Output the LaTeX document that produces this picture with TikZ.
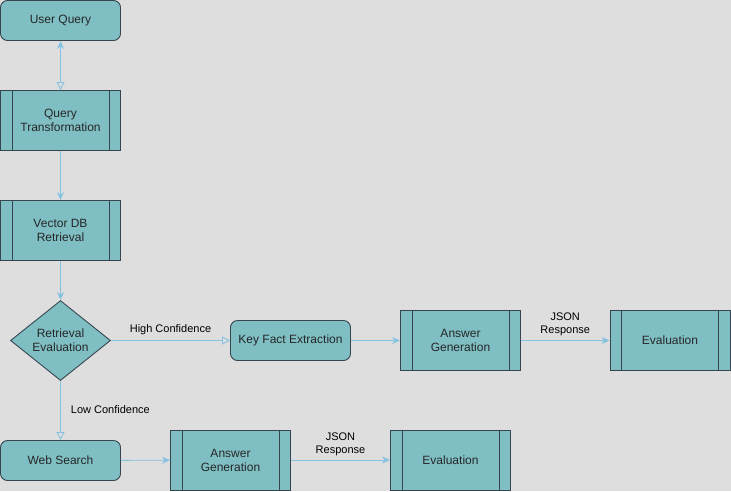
\documentclass[tikz,border=0pt]{standalone}
\usepackage{fontspec}
\setmainfont{Liberation Sans}
\usetikzlibrary{shapes.geometric,arrows.meta}
\definecolor{bg}{HTML}{DEDEDE}
\definecolor{boxfill}{HTML}{7FBFC4}
\definecolor{boxline}{HTML}{36454F}
\definecolor{conn}{HTML}{86C2E0}
\tikzset{
  x=1pt,y=-1pt,
  base/.style={draw=boxline,fill=boxfill,line width=0.9pt,text=black!85,font=\fontsize{12}{14}\selectfont,align=center,inner sep=0pt},
  roundbox/.style={base,rounded corners=7pt,minimum width=120pt,minimum height=40pt},
  procbox/.style={base,minimum width=120pt,minimum height=60pt},
  decbox/.style={base,diamond,minimum width=100pt,minimum height=80pt,aspect=1.25},
  conline/.style={draw=conn,line width=0.9pt},
  solidtip/.style={conline,-{Stealth[length=8pt,width=7pt,inset=2.5pt]}},
  opentip/.style={conline,-{Triangle[open,length=8pt,width=8pt]}},
  elabel/.style={font=\fontsize{11}{13}\selectfont,text=black,align=center,inner sep=0pt}
}
\newcommand{\procsides}[1]{%
  \draw[draw=boxline,line width=0.9pt] ([xshift=12pt]#1.north west) -- ([xshift=12pt]#1.south west);
  \draw[draw=boxline,line width=0.9pt] ([xshift=-12pt]#1.north east) -- ([xshift=-12pt]#1.south east);}
\begin{document}
\begin{tikzpicture}
\fill[bg] (0,0) rectangle (731,491);
\useasboundingbox (0,0) rectangle (731,491);
\node[roundbox] (uq) at (60.5,20.5) {User Query};
\node[procbox] (qt) at (60.5,120.5) {Query\\Transformation};
\node[procbox] (vdb) at (60.5,230.5) {Vector DB\\Retrieval};
\node[decbox] (re) at (60.5,340.5) {Retrieval\\Evaluation};
\node[roundbox] (kfe) at (290.5,340.5) {Key Fact Extraction};
\node[procbox] (ag1) at (460.5,340.5) {Answer\\Generation};
\node[procbox] (ev1) at (670,340.5) {Evaluation};
\node[roundbox] (ws) at (60.5,460.5) {Web Search};
\node[procbox] (ag2) at (230.5,460) {Answer\\Generation};
\node[procbox] (ev2) at (450.5,460) {Evaluation};
\procsides{qt}\procsides{vdb}\procsides{ag1}\procsides{ev1}\procsides{ag2}\procsides{ev2}
\draw[conline,{Stealth[length=8pt,width=7pt,inset=2.5pt]}-{Triangle[open,length=8pt,width=8pt]}] (uq) -- (qt);
\draw[solidtip] (qt) -- (vdb);
\draw[solidtip] (vdb) -- (re);
\draw[opentip] (re) -- node[elabel,above=5pt] {High Confidence} (kfe);
\draw[opentip] (re) -- node[elabel,right=10pt,pos=0.48] {Low Confidence} (ws);
\draw[solidtip] (kfe) -- (ag1);
\draw[solidtip] (ag1) -- node[elabel,above=4pt] {JSON\\Response} (ev1);
\draw[solidtip] (ws) -- (ag2);
\draw[solidtip] (ag2) -- node[elabel,above=4pt] {JSON\\Response} (ev2);
\end{tikzpicture}
\end{document}
